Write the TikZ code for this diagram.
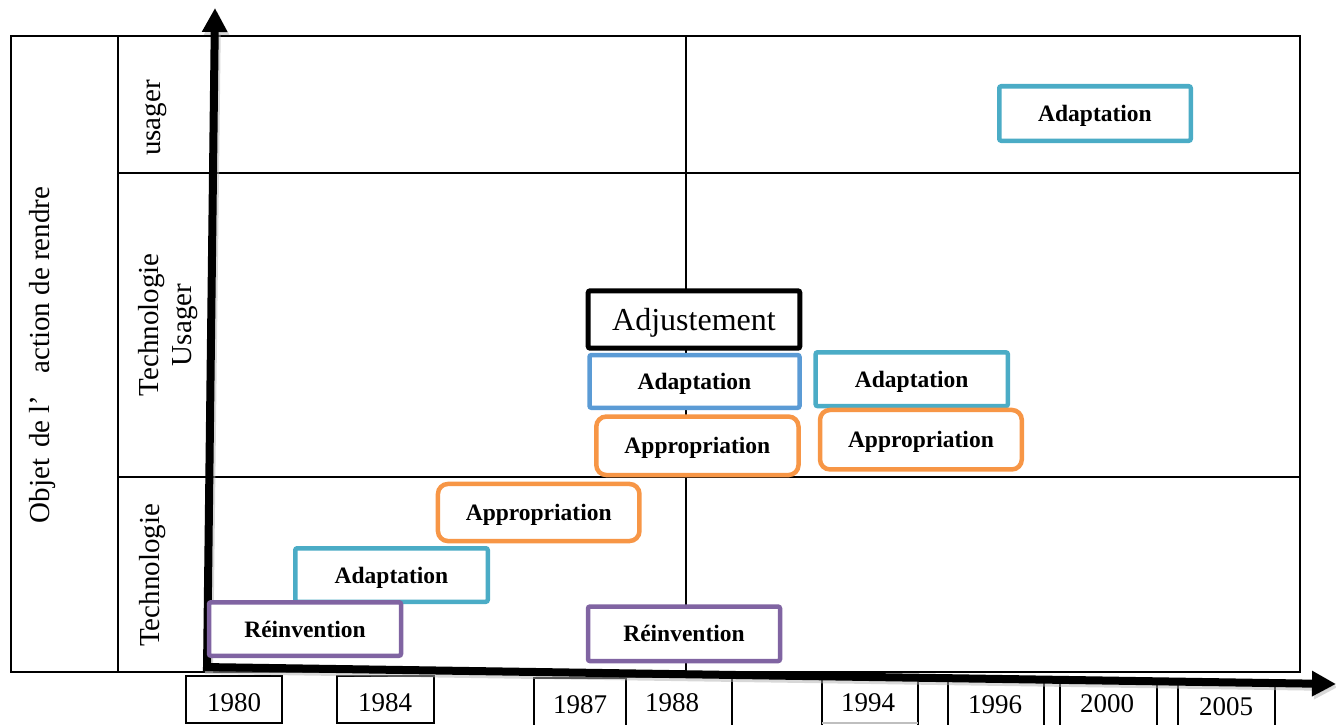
\documentclass[tikz,border=0pt]{standalone}
\usepackage{fontspec}
\setmainfont{Liberation Serif}
\usetikzlibrary{arrows.meta}
\definecolor{cyanbox}{HTML}{4BACC6}
\definecolor{bluebox}{HTML}{5B9BD5}
\definecolor{orangebox}{HTML}{F79646}
\definecolor{purplebox}{HTML}{8064A2}
\begin{document}
\begin{tikzpicture}[x=1pt,y=-1pt,
  gridline/.style={line width=2pt},
  rowlabel/.style={rotate=90, inner sep=0pt, align=center, font=\fontsize{29}{33}\selectfont},
  yearbox/.style={line width=1.3pt},
  yearlabel/.style={inner sep=0pt, font=\fontsize{27}{30}\selectfont},
  axisline/.style={line width=8pt, -{Triangle[length=24pt,width=24pt]}},
  axisshadow/.style={line width=8pt, draw=black!30, opacity=0.5, -{Triangle[length=24pt,width=24pt]}},
  stage/.style={draw, fill=white, line width=4.5pt, rounded corners=2pt, inner sep=0pt,
    text depth=0pt, font=\fontsize{23.5}{28}\selectfont\bfseries},
  roundstage/.style={stage, rounded corners=10pt},
]
\useasboundingbox (0,0) rectangle (1336,725);
\clip (0,0) rectangle (1336,725);

% table frame
\draw[gridline] (11,36) rectangle (1300,672);
\draw[gridline] (118,36) -- (118,672);
\draw[gridline] (118,173) -- (1300,173);
\draw[gridline] (118,477) -- (1300,477);
\draw[gridline] (686,36) -- (686,672);

% row headers
\node[rowlabel] (objet) at (43,355) {Objet\hspace{11pt}de l’\hspace{22pt}action de rendre};
\node[rowlabel] (rowU) at (156,118) {usager};
\node[rowlabel] (rowTU) at (168,325) {Technologie\\Usager};
\node[rowlabel] (rowT) at (152.5,575.5) {Technologie};

% year boxes on the time axis
\draw[yearbox] (186,723) rectangle (282,676);
\draw[yearbox] (337,723) rectangle (434,676);
\draw[yearbox] (534,730) |- (626,678) -- (626,730);
\draw[yearbox] (626,677) -- (732,677) -- (732,730);
\draw[yearbox] (822,730) |- (918,677) -- (918,730);
\draw[yearbox, black!25] (822,723) -- (918,723);
\draw[yearbox] (948,730) |- (1044,679) -- (1044,730);
\draw[yearbox] (1060,730) |- (1157,680) -- (1157,730);
\draw[yearbox] (1178,730) |- (1275,682) -- (1275,730);

\node[yearlabel] (y1980) at (234,702.5) {1980};
\node[yearlabel] (y1984) at (385,702.5) {1984};
\node[yearlabel] (y1987) at (580,705) {1987};
\node[yearlabel] (y1988) at (672,703) {1988};
\node[yearlabel] (y1994) at (868,703) {1994};
\node[yearlabel] (y1996) at (995,705) {1996};
\node[yearlabel] (y2000) at (1107,704) {2000};
\node[yearlabel] (y2005) at (1226,707) {2005};

% axes
\coordinate (origin) at (207,670);
\coordinate (xstart) at (203,667);
\coordinate (ytip) at (215,8);
\coordinate (xtip) at (1336,684);
\draw[axisshadow, transform canvas={shift={(2pt,-3pt)}}] (origin) -- (ytip);
\draw[axisshadow, transform canvas={shift={(2pt,-3pt)}}] (xstart) -- (xtip);
\draw[axisline] (origin) -- (ytip);
\draw[axisline] (xstart) -- (xtip);

% stages
\node[stage, draw=cyanbox, minimum width=191.5pt, minimum height=54.5pt] (adaU) at (1095,113.5) {Adaptation};
\node[stage, draw=black, line width=5pt, font=\fontsize{32}{36}\selectfont, minimum width=211.6pt, minimum height=57.4pt] (adj) at (694,319.5) {Adjustement};
\node[stage, draw=bluebox, minimum width=210pt, minimum height=52.8pt] (adaTU1) at (694.5,381.4) {Adaptation};
\node[stage, draw=cyanbox, minimum width=192.2pt, minimum height=53.8pt] (adaTU2) at (911.7,379.2) {Adaptation};
\node[roundstage, draw=orangebox, minimum width=202.2pt, minimum height=58.5pt] (appTU1) at (697.4,445.8) {Appropriation};
\node[roundstage, draw=orangebox, minimum width=201.8pt, minimum height=59.5pt] (appTU2) at (920.9,439.7) {Appropriation};
\node[roundstage, draw=orangebox, minimum width=201.5pt, minimum height=57.1pt] (appT) at (538.7,512.5) {Appropriation};
\node[stage, draw=cyanbox, minimum width=192.5pt, minimum height=53.5pt] (adaT) at (391.5,575) {Adaptation};
\node[stage, draw=purplebox, minimum width=192pt, minimum height=53.5pt] (reiT1) at (305,629) {Réinvention};
\node[stage, draw=purplebox, minimum width=192pt, minimum height=54.5pt] (reiT2) at (684,633.8) {Réinvention};
\end{tikzpicture}
\end{document}
